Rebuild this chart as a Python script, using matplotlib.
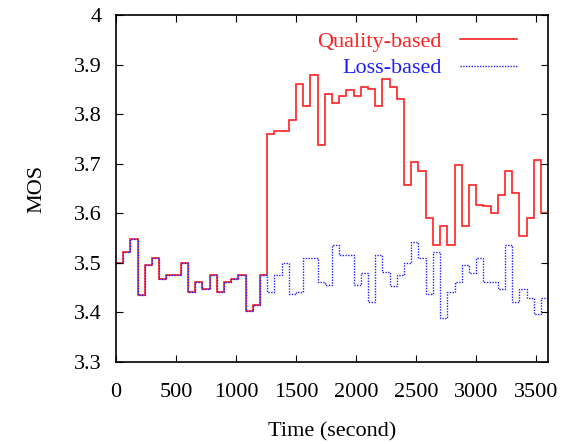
import numpy as np
import matplotlib
matplotlib.use('Agg')
import matplotlib.pyplot as plt

# MOS per 60 s interval
common = [3.50, 3.522, 3.548, 3.434, 3.495, 3.51, 3.467, 3.475, 3.475, 3.50,
          3.442, 3.461, 3.448, 3.475, 3.442, 3.461, 3.468, 3.475, 3.402, 3.415,
          3.475]
quality_tail = [3.759, 3.766, 3.766, 3.789, 3.86, 3.817, 3.879, 3.737, 3.841, 3.823,
                3.836, 3.849, 3.836, 3.854, 3.850, 3.817, 3.872, 3.854, 3.831, 3.658,
                3.703, 3.685, 3.59, 3.536, 3.574, 3.536, 3.697, 3.574, 3.657, 3.617,
                3.614, 3.601, 3.637, 3.685, 3.640, 3.554, 3.591, 3.707, 3.601]
loss_tail = [3.442, 3.475, 3.50, 3.437, 3.442, 3.51, 3.51, 3.461, 3.456, 3.535,
             3.515, 3.515, 3.456, 3.48, 3.421, 3.515, 3.481, 3.453, 3.475, 3.50,
             3.542, 3.51, 3.437, 3.521, 3.389, 3.442, 3.461, 3.495, 3.48, 3.51,
             3.461, 3.461, 3.448, 3.535, 3.421, 3.448, 3.428, 3.396, 3.428]

quality = common + quality_tail
loss = common + loss_tail
edges = np.arange(0, 60 * len(quality) + 1, 60)

xticks = [0, 500, 1000, 1500, 2000, 2500, 3000, 3500]
yticks = [3.3, 3.4, 3.5, 3.6, 3.7, 3.8, 3.9, 4.0]
ytick_labels = ['3.3', '3.4', '3.5', '3.6', '3.7', '3.8', '3.9', '4']

plt.rcParams['font.family'] = 'Liberation Serif'

fig = plt.figure(figsize=(5.71, 4.44), dpi=100)
ax = fig.add_axes([0.203, 0.185, 0.757, 0.781])

ax.stairs(quality, edges, baseline=None, color='#ff2020', linewidth=1.2,
          label='Quality-based')
ax.stairs(loss, edges, baseline=None, color='#2020ff', linewidth=1.0,
          linestyle=(0, (1, 1)), label='Loss-based')

ax.set_xlim(0, 3600)
ax.set_ylim(3.3, 4.0)
ax.set_xticks(xticks)
ax.set_yticks(yticks)
ax.set_yticklabels(ytick_labels)
ax.tick_params(direction='in', top=True, right=True, labelsize=16, length=5)
ax.tick_params(axis='x', pad=15)
ax.tick_params(axis='y', pad=10)
for s in ax.spines.values():
    s.set_linewidth(1.2)

ax.set_xlabel('Time (second)', fontsize=16, labelpad=15)
ax.set_ylabel('MOS', fontsize=16, labelpad=20)

ax.legend(loc='upper right', frameon=False, markerfirst=False, fontsize=16,
          labelcolor='linecolor', handlelength=2.6, labelspacing=0.25,
          bbox_to_anchor=(0.975, 1.01), handletextpad=0.8)

fig.savefig('out.png', dpi=100)
